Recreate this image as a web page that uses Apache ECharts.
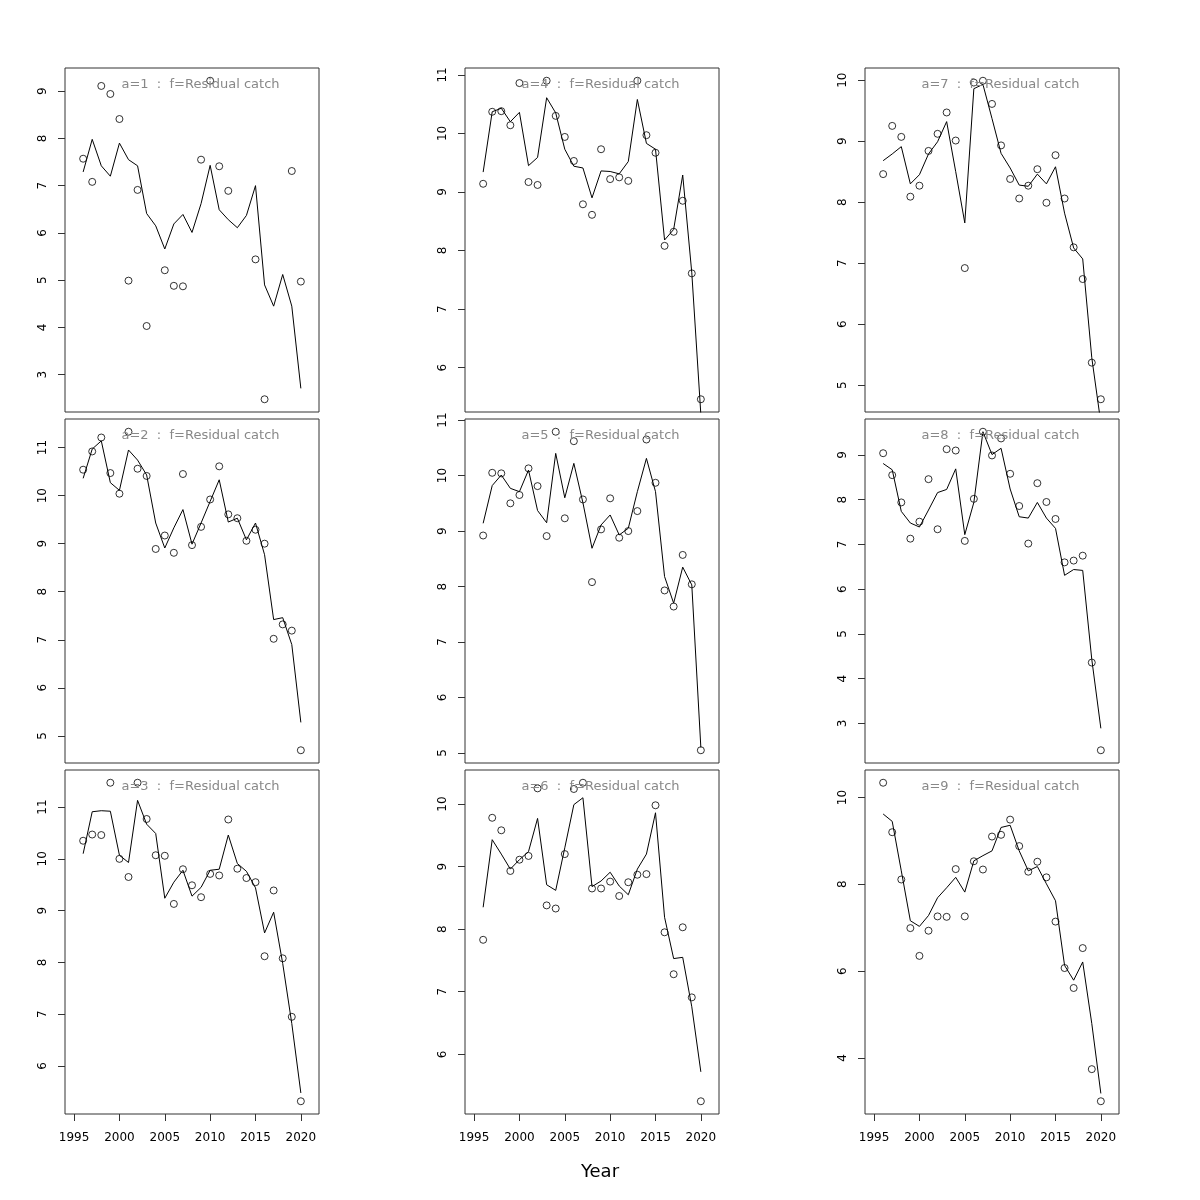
<!DOCTYPE html>
<html>
<head>
<meta charset="utf-8">
<script src="https://cdn.jsdelivr.net/npm/echarts@6/dist/echarts.min.js"></script>
<style>
html,body{margin:0;padding:0;background:#fff;}
#chart{width:1200px;height:1200px;}
</style>
</head>
<body>
<div id="chart"></div>
<script>
// ---- data ----
const years = [1996,1997,1998,1999,2000,2001,2002,2003,2004,2005,2006,2007,2008,2009,2010,2011,2012,2013,2014,2015,2016,2017,2018,2019,2020];
const xTicks = [1995,2000,2005,2010,2015,2020];

const obs1 = [7.57,7.08,9.11,8.94,8.41,4.99,6.91,4.03,null,5.21,4.88,4.87,null,7.55,9.22,7.41,6.89,null,null,5.44,2.48,null,null,7.31,4.97];
const fit1 = [7.29,7.98,7.42,7.20,7.90,7.55,7.42,6.41,6.15,5.66,6.19,6.39,6.01,6.62,7.43,6.49,6.28,6.11,6.37,7.00,4.90,4.45,5.12,4.45,2.71];
const obs2 = [10.54,10.92,11.21,10.47,10.04,11.33,10.56,10.41,8.89,9.17,8.81,10.45,8.97,9.35,9.92,10.61,9.61,9.53,9.06,9.29,9.00,7.02,7.32,7.19,4.70];
const fit2 = [10.36,10.97,11.14,10.27,10.11,10.95,10.74,10.43,9.43,8.91,9.33,9.71,8.99,9.43,9.88,10.33,9.45,9.53,9.08,9.43,8.77,7.42,7.46,6.90,5.28];
const obs3 = [10.35,10.47,10.46,11.47,10.00,9.65,11.47,10.77,10.07,10.06,9.13,9.80,9.49,9.26,9.71,9.68,10.76,9.81,9.63,9.55,8.12,9.39,8.08,6.95,5.32];
const fit3 = [10.10,10.91,10.93,10.92,10.07,9.93,11.13,10.67,10.49,9.24,9.55,9.78,9.28,9.45,9.78,9.80,10.46,9.91,9.76,9.44,8.57,8.97,7.98,6.82,5.48];
const obs4 = [9.14,10.37,10.38,10.14,10.86,9.17,9.12,10.90,10.30,9.94,9.53,8.79,8.61,9.73,9.22,9.25,9.19,10.90,9.97,9.67,8.08,8.32,8.85,7.61,5.46];
const fit4 = [9.34,10.37,10.43,10.20,10.36,9.45,9.59,10.61,10.35,9.73,9.44,9.41,8.90,9.36,9.35,9.31,9.52,10.58,9.83,9.73,8.18,8.36,9.29,7.62,5.20];
const obs5 = [8.92,10.05,10.04,9.50,9.65,10.13,9.81,8.91,10.79,9.23,10.62,9.57,8.08,9.03,9.59,8.88,9.00,9.36,10.65,9.87,7.93,7.64,8.57,8.04,5.05];
const fit5 = [9.14,9.82,10.01,9.77,9.71,10.10,9.37,9.15,10.40,9.60,10.22,9.51,8.69,9.11,9.29,8.93,9.05,9.71,10.31,9.71,8.18,7.70,8.35,8.03,5.10];
const obs6 = [7.83,9.78,9.58,8.93,9.11,9.17,10.25,8.38,8.33,9.20,10.24,10.34,8.65,8.65,8.76,8.53,8.75,8.87,8.88,9.98,7.95,7.28,8.03,6.91,5.25];
const fit6 = [8.35,9.43,9.20,8.96,9.11,9.24,9.77,8.71,8.62,9.30,9.99,10.10,8.68,8.77,8.91,8.69,8.55,8.96,9.20,9.86,8.19,7.53,7.55,6.76,5.72];
const obs7 = [8.46,9.25,9.07,8.09,8.27,8.84,9.12,9.47,9.01,6.92,9.96,9.99,9.61,8.93,8.38,8.06,8.27,8.54,7.99,8.77,8.06,7.26,6.74,5.37,4.77];
const fit7 = [8.68,8.79,8.91,8.30,8.45,8.79,8.99,9.32,8.50,7.66,9.86,9.93,9.37,8.80,8.56,8.28,8.26,8.46,8.30,8.58,7.82,7.25,7.07,5.45,4.38];
const obs8 = [9.04,8.55,7.94,7.13,7.51,8.46,7.34,9.13,9.10,7.08,8.02,9.52,8.99,9.37,8.58,7.86,7.02,8.37,7.95,7.57,6.60,6.64,6.75,4.36,2.40];
const fit8 = [8.81,8.67,7.74,7.48,7.39,7.77,8.16,8.23,8.69,7.22,7.94,9.52,9.01,9.15,8.24,7.62,7.59,7.94,7.59,7.36,6.31,6.44,6.42,4.43,2.89];
const obs9 = [10.34,9.20,8.11,6.99,6.35,6.93,7.26,7.25,8.35,7.26,8.53,8.34,9.10,9.14,9.49,8.88,8.29,8.52,8.16,7.14,6.07,5.61,6.53,3.74,3.00];
const fit9 = [9.62,9.45,8.31,7.16,7.03,7.28,7.69,7.92,8.16,7.82,8.54,8.66,8.77,9.31,9.36,8.77,8.31,8.41,8.01,7.62,6.13,5.79,6.21,4.79,3.18];

const yTicks1 = [3,4,5,6,7,8,9];
const yTicks2 = [5,6,7,8,9,10,11];
const yTicks3 = [6,7,8,9,10,11];
const yTicks4 = [6,7,8,9,10,11];
const yTicks5 = [5,6,7,8,9,10,11];
const yTicks6 = [6,7,8,9,10];
const yTicks7 = [5,6,7,8,9,10];
const yTicks8 = [3,4,5,6,7,8,9];
const yTicks9 = [4,6,8,10];

const panelLabels = ['a=1  :  f=Residual catch','a=2  :  f=Residual catch','a=3  :  f=Residual catch',
                     'a=4  :  f=Residual catch','a=5  :  f=Residual catch','a=6  :  f=Residual catch',
                     'a=7  :  f=Residual catch','a=8  :  f=Residual catch','a=9  :  f=Residual catch'];
const xLabel = 'Year';

// ---- layout ----
const colLeft = [65, 465, 865];
const rowTop = [68, 419, 770];
const panelW = 254, panelH = 344;
const FONT = '"DejaVu Sans", sans-serif';

const panels = [
  {obs: obs1, fit: fit1, yt: yTicks1},
  {obs: obs2, fit: fit2, yt: yTicks2},
  {obs: obs3, fit: fit3, yt: yTicks3},
  {obs: obs4, fit: fit4, yt: yTicks4},
  {obs: obs5, fit: fit5, yt: yTicks5},
  {obs: obs6, fit: fit6, yt: yTicks6},
  {obs: obs7, fit: fit7, yt: yTicks7},
  {obs: obs8, fit: fit8, yt: yTicks8},
  {obs: obs9, fit: fit9, yt: yTicks9}
];

const option = {
  animation: false,
  backgroundColor: '#ffffff',
  grid: [], xAxis: [], yAxis: [], series: [], graphic: []
};

panels.forEach((p, i) => {
  const col = Math.floor(i / 3), row = i % 3;
  const vals = p.obs.filter(v => v !== null);
  const lo = Math.min(...vals), hi = Math.max(...vals);
  const ext = (hi - lo) * 0.04;
  option.grid.push({
    left: colLeft[col], top: rowTop[row], width: panelW, height: panelH,
    show: true, borderColor: '#333', borderWidth: 1, backgroundColor: 'transparent', containLabel: false
  });
  const bottomRow = row === 2;
  option.xAxis.push({
    type: 'value', gridIndex: i, min: 1994, max: 2022,
    axisLine: {show: false},
    splitLine: {show: false},
    axisTick: {show: bottomRow, length: 7, customValues: xTicks, lineStyle: {color: '#333', width: 1}},
    axisLabel: {show: bottomRow, customValues: xTicks, margin: 18, color: '#000', fontSize: 12, fontFamily: FONT,
                formatter: v => String(v)}
  });
  option.yAxis.push({
    type: 'value', gridIndex: i, min: lo - ext, max: hi + ext,
    axisLine: {show: false},
    splitLine: {show: false},
    axisTick: {show: true, length: 7, customValues: p.yt, lineStyle: {color: '#333', width: 1}},
    axisLabel: {show: true, customValues: p.yt, rotate: 90, margin: 16, color: '#000', fontSize: 12, fontFamily: FONT,
                formatter: v => String(v)}
  });
  const pts = [];
  years.forEach((y, k) => { if (p.obs[k] !== null) pts.push([y, p.obs[k]]); });
  option.series.push({
    type: 'scatter', xAxisIndex: i, yAxisIndex: i, data: pts,
    symbol: 'circle', symbolSize: 7,
    itemStyle: {color: 'rgba(0,0,0,0)', borderColor: '#000', borderWidth: 1},
    silent: true, z: 3
  });
  option.series.push({
    type: 'line', xAxisIndex: i, yAxisIndex: i, data: years.map((y, k) => [y, p.fit[k]]),
    showSymbol: false, symbol: 'none', clip: true,
    lineStyle: {color: '#000', width: 1}, silent: true, z: 2
  });
  option.graphic.push({
    type: 'text', x: colLeft[col] + 135.5, y: rowTop[row] + 16.5, z: 10,
    style: {text: panelLabels[i], fill: '#888', fontSize: 13, fontFamily: FONT, align: 'center', verticalAlign: 'middle'}
  });
});

option.graphic.push({
  type: 'text', x: 600, y: 1172,
  style: {text: xLabel, fill: '#000', fontSize: 18, fontFamily: FONT, align: 'center', verticalAlign: 'middle'}
});

const chart = echarts.init(document.getElementById('chart'), null, {renderer: 'canvas'});
chart.setOption(option);
</script>
</body>
</html>
